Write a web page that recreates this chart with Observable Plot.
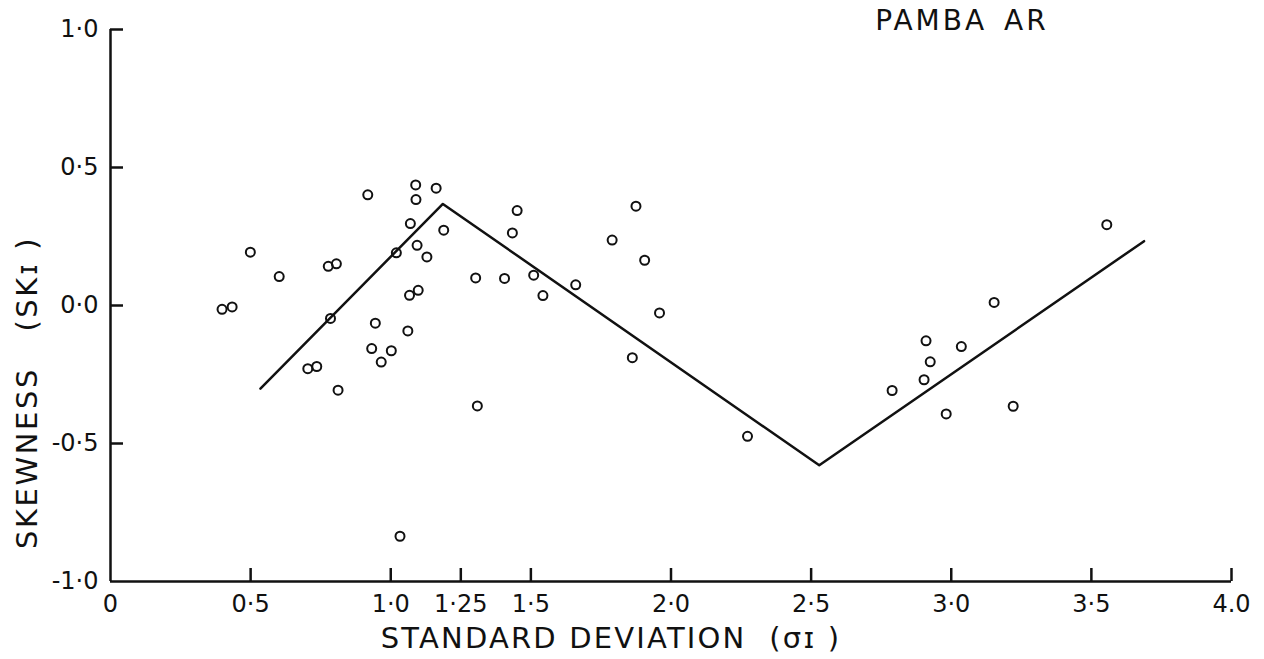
<!DOCTYPE html>
<html>
<head>
<meta charset="utf-8">
<script src="https://cdn.jsdelivr.net/npm/d3@7"></script>
<script src="https://cdn.jsdelivr.net/npm/@observablehq/plot@0.6"></script>
<style>
  html, body { margin: 0; padding: 0; background: #fff; }
  #chart svg text { white-space: pre; }
</style>
</head>
<body>
<div id="chart"></div>
<script>
// Samples: graphic standard deviation (sigma I) against graphic skewness (SK I)
const sigma = [
  0.398, 0.434, 0.499, 0.602, 0.704, 0.736, 0.777, 0.806, 0.785, 0.812,
  0.918, 0.932, 0.945, 0.966, 1.002, 1.020, 1.033, 1.061, 1.067, 1.070,
  1.089, 1.090, 1.094, 1.098, 1.129, 1.162, 1.189, 1.303, 1.309, 1.406,
  1.434, 1.451, 1.510, 1.543, 1.660, 1.790, 1.862, 1.875, 1.906, 1.959,
  2.273, 2.789, 2.903, 2.910, 2.925, 2.982, 3.036, 3.153, 3.221, 3.555
];
const skewness = [
  -0.014, -0.005, 0.193, 0.105, -0.229, -0.221, 0.142, 0.151, -0.047, -0.307,
  0.401, -0.156, -0.064, -0.205, -0.164, 0.191, -0.836, -0.092, 0.037, 0.297,
  0.437, 0.384, 0.218, 0.055, 0.176, 0.425, 0.273, 0.100, -0.364, 0.098,
  0.263, 0.344, 0.110, 0.036, 0.075, 0.237, -0.189, 0.360, 0.164, -0.027,
  -0.474, -0.308, -0.269, -0.128, -0.204, -0.393, -0.149, 0.011, -0.365, 0.293
];

// Hand-fitted trend: a zig-zag through four vertices
const trendSigma = [0.535, 1.186, 2.529, 3.688];
const trendSkew = [-0.301, 0.368, -0.579, 0.233];

// Axis ticks and their printed labels
const xTicks = [0, 0.5, 1, 1.25, 1.5, 2, 2.5, 3, 3.5, 4];
const xTickLabels = ["0", "0·5", "1·0", "1·25", "1·5", "2·0", "2·5", "3·0", "3·5", "4.0"];
const yTicks = [-1, -0.5, 0, 0.5, 1];
const yTickLabels = ["-1·0", "-0·5", "0·0", "0·5", "1·0"];

const title = "PAMBA\u2002AR";
const xTitle = "STANDARD DEVIATION  (σɪ )";
const yTitle = "SKEWNESS   (SKɪ )";

const points = sigma.map((s, i) => ({sigma: s, skew: skewness[i]}));
const trend = trendSigma.map((s, i) => ({sigma: s, skew: trendSkew[i]}));

const ink = "#111";
const font = "'DejaVu Sans', 'Liberation Sans', sans-serif";
const xMin = 0, yMin = -1;

const chart = Plot.plot({
  width: 1264,
  height: 659,
  marginLeft: 110,
  marginRight: 33,
  marginTop: 29,
  marginBottom: 78,
  x: {domain: [0, 4]},
  y: {domain: [-1, 1]},
  style: {fontFamily: font, color: ink, background: "#fff", overflow: "visible"},
  marks: [
    // axis lines
    Plot.ruleX([xMin], {stroke: ink, strokeWidth: 2.5}),
    Plot.ruleY([yMin], {stroke: ink, strokeWidth: 2.5}),
    // inward tick marks: zero-length rules at the axis, stretched inward by a negative inset
    Plot.ruleX(xTicks.filter(d => d > xMin), {
      x: d => d, y1: () => yMin, y2: () => yMin, insetTop: -13,
      stroke: ink, strokeWidth: 2.5
    }),
    Plot.ruleY(yTicks.filter(d => d > yMin), {
      y: d => d, x1: () => xMin, x2: () => xMin, insetRight: -13,
      stroke: ink, strokeWidth: 2.5
    }),
    // tick labels
    Plot.axisX(xTicks, {
      tickSize: 0, tickPadding: 13, stroke: "none", fill: ink, fontSize: 24, label: null,
      tickFormat: d => xTickLabels[xTicks.indexOf(d)]
    }),
    Plot.axisY(yTicks, {
      tickSize: 0, tickPadding: 12, stroke: "none", fill: ink, fontSize: 24, label: null,
      tickFormat: d => yTickLabels[yTicks.indexOf(d)]
    }),
    // trend line
    Plot.line(trend, {x: "sigma", y: "skew", stroke: ink, strokeWidth: 2.5}),
    // samples
    Plot.dot(points, {x: "sigma", y: "skew", r: 4.5, stroke: ink, strokeWidth: 2, fill: "none"}),
    // titles
    Plot.text([xTitle], {
      frameAnchor: "bottom", textAnchor: "middle", lineAnchor: "middle",
      dx: -60, dy: 57, fontSize: 29, fill: ink
    }),
    Plot.text([yTitle], {
      frameAnchor: "left", textAnchor: "middle", lineAnchor: "middle", rotate: -90,
      dx: -83, dy: 87, fontSize: 29, fill: ink
    }),
    Plot.text([title], {
      frameAnchor: "top", textAnchor: "middle", lineAnchor: "middle",
      dx: 291, dy: -8, fontSize: 28, fill: ink
    })
  ]
});

// hand-lettered spacing for the titles
const spacing = new Map([[title, "3px"], [xTitle, "2.2px"], [yTitle, "2.6px"]]);
d3.select(chart).selectAll("text")
  .filter(function() { return spacing.has(this.textContent); })
  .style("letter-spacing", function() { return spacing.get(this.textContent); });

document.getElementById("chart").appendChild(chart);
</script>
</body>
</html>
